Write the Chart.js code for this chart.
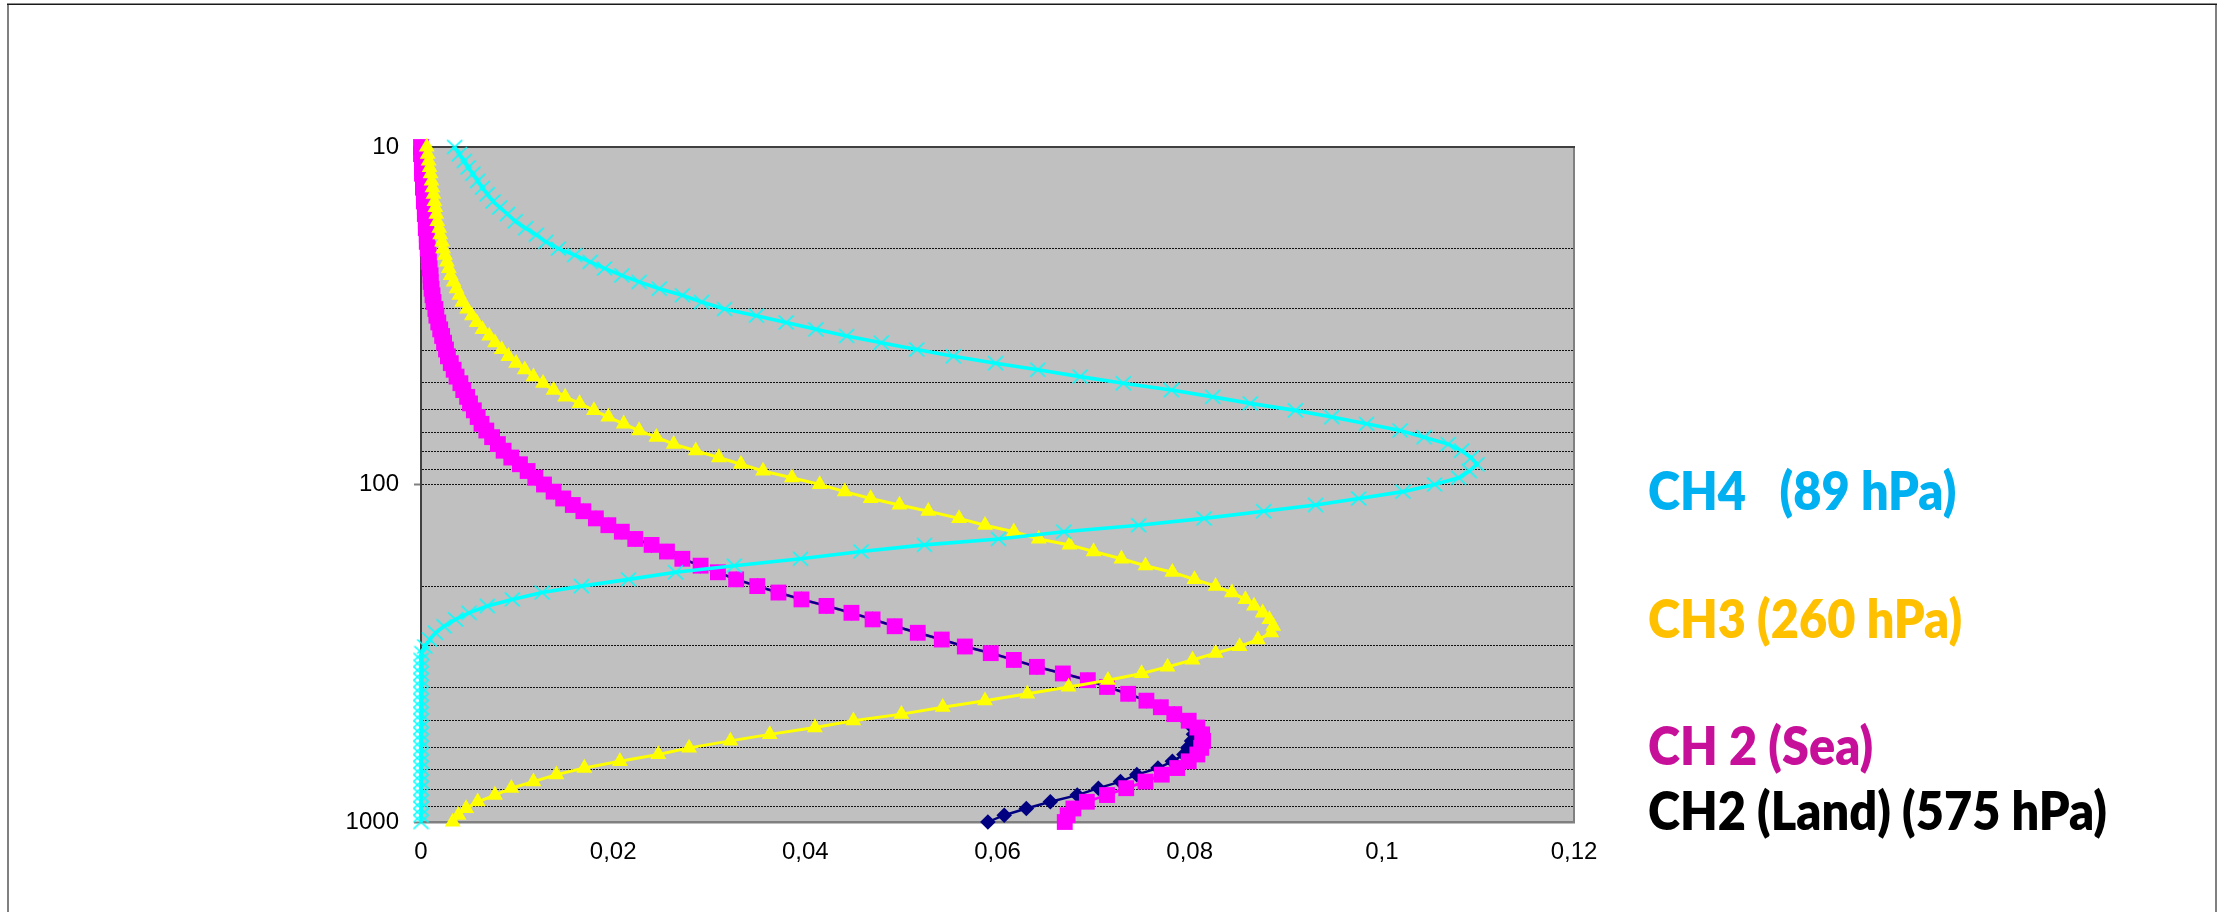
<!DOCTYPE html>
<html><head><meta charset="utf-8">
<script src="https://cdn.jsdelivr.net/npm/chart.js@4.4.1/dist/chart.umd.min.js"></script>
<style>html,body{margin:0;padding:0;background:#fff;}#wrap{position:relative;width:2231px;height:912px;}canvas{display:block;}</style>
</head><body><div id="wrap"><canvas id="c" width="2231" height="912"></canvas></div>
<script>
// Pressure levels (hPa)
const pressureLevels = [10, 10.5, 11, 11.5, 12, 12.6, 13.2, 13.8, 14.5, 15.1,
  15.8, 16.6, 17.4, 18.2, 19.1, 20, 20.9, 21.9, 22.9, 24,
  25.1, 26.3, 27.5, 28.8, 30.2, 31.6, 33.1, 34.7, 36.3, 38,
  39.8, 41.7, 43.7, 45.7, 47.9, 50.1, 52.5, 55, 57.5, 60.3,
  63.1, 66.1, 69.2, 72.4, 75.9, 79.4, 83.2, 87.1, 91.2, 95.5,
  100, 105, 110, 115, 120, 126, 132, 138, 145, 151,
  158, 166, 174, 182, 191, 200, 209, 219, 229, 240,
  251, 263, 275, 288, 302, 316, 331, 347, 363, 380,
  398, 417, 437, 457, 479, 501, 525, 550, 575, 603,
  631, 661, 692, 724, 759, 794, 832, 871, 912, 955, 1000];

const ch4Values = [0.0035, 0.0040, 0.0045, 0.0049, 0.0054, 0.0059, 0.0064, 0.0069, 0.0075, 0.0082,
  0.0090, 0.0098, 0.0109, 0.0120, 0.0130, 0.0143, 0.0160, 0.0176, 0.0191, 0.0209,
  0.0227, 0.0248, 0.0272, 0.0292, 0.0316, 0.0349, 0.0380, 0.0411, 0.0443, 0.0479,
  0.0516, 0.0554, 0.0598, 0.0642, 0.0686, 0.0731, 0.0781, 0.0824, 0.0863, 0.0910,
  0.0948, 0.0984, 0.1019, 0.1044, 0.1069, 0.1083, 0.1093, 0.1099, 0.1091, 0.1080,
  0.1055, 0.1022, 0.0976, 0.0931, 0.0877, 0.0815, 0.0747, 0.0669, 0.0601, 0.0524,
  0.0458, 0.0395, 0.0326, 0.0265, 0.0216, 0.0167, 0.0126, 0.0095, 0.0069, 0.0050,
  0.0036, 0.0024, 0.0015, 0.0009, 0.0004, 0.0001, 0, 0, 0, 0,
  0, 0, 0, 0, 0, 0, 0, 0, 0, 0,
  0, 0, 0, 0, 0, 0, 0, 0, 0, 0, 0];

const ch3Values = [0.0006, 0.0007, 0.0008, 0.0009, 0.0010, 0.0011, 0.0012, 0.0013, 0.0014, 0.0015,
  0.0016, 0.0017, 0.0019, 0.0020, 0.0022, 0.0023, 0.0025, 0.0027, 0.0029, 0.0031,
  0.0034, 0.0037, 0.0040, 0.0043, 0.0048, 0.0053, 0.0058, 0.0064, 0.0071, 0.0077,
  0.0084, 0.0091, 0.0099, 0.0108, 0.0117, 0.0127, 0.0138, 0.0150, 0.0165, 0.0180,
  0.0195, 0.0211, 0.0227, 0.0245, 0.0263, 0.0286, 0.0310, 0.0333, 0.0356, 0.0386,
  0.0415, 0.0441, 0.0468, 0.0498, 0.0528, 0.0560, 0.0587, 0.0617, 0.0643, 0.0675,
  0.0700, 0.0729, 0.0754, 0.0782, 0.0805, 0.0827, 0.0844, 0.0858, 0.0867, 0.0876,
  0.0883, 0.0887, 0.0885, 0.0871, 0.0852, 0.0827, 0.0803, 0.0777, 0.0750, 0.0715,
  0.0674, 0.0631, 0.0587, 0.0543, 0.0500, 0.0450, 0.0410, 0.0363, 0.0322, 0.0279,
  0.0247, 0.0207, 0.0170, 0.0141, 0.0117, 0.0094, 0.0077, 0.0059, 0.0047, 0.0039, 0.0033];

const ch2SeaValues = [0, 0, 0.0001, 0.0001, 0.0001, 0.0002, 0.0002, 0.0003, 0.0003, 0.0004,
  0.0004, 0.0005, 0.0005, 0.0006, 0.0006, 0.0007, 0.0008, 0.0008, 0.0009, 0.0010,
  0.0010, 0.0011, 0.0012, 0.0013, 0.0015, 0.0016, 0.0018, 0.0020, 0.0022, 0.0024,
  0.0026, 0.0028, 0.0031, 0.0034, 0.0037, 0.0041, 0.0044, 0.0048, 0.0051, 0.0055,
  0.0059, 0.0063, 0.0068, 0.0074, 0.0080, 0.0086, 0.0094, 0.0103, 0.0111, 0.0119,
  0.0128, 0.0138, 0.0148, 0.0158, 0.0169, 0.0182, 0.0195, 0.0209, 0.0223, 0.0240,
  0.0256, 0.0272, 0.0291, 0.0309, 0.0328, 0.0350, 0.0372, 0.0396, 0.0422, 0.0448,
  0.0470, 0.0493, 0.0517, 0.0542, 0.0566, 0.0593, 0.0617, 0.0641, 0.0668, 0.0694,
  0.0714, 0.0736, 0.0755, 0.0770, 0.0784, 0.0799, 0.0808, 0.0813, 0.0814, 0.0812,
  0.0808, 0.0799, 0.0787, 0.0771, 0.0754, 0.0734, 0.0714, 0.0693, 0.0679, 0.0673, 0.0670];

const ch2LandValues = [0, 0, 0.0001, 0.0001, 0.0001, 0.0002, 0.0002, 0.0003, 0.0003, 0.0004,
  0.0004, 0.0005, 0.0005, 0.0006, 0.0006, 0.0007, 0.0008, 0.0008, 0.0009, 0.0010,
  0.0010, 0.0011, 0.0012, 0.0013, 0.0015, 0.0016, 0.0018, 0.0020, 0.0022, 0.0024,
  0.0026, 0.0028, 0.0031, 0.0034, 0.0037, 0.0041, 0.0044, 0.0048, 0.0051, 0.0055,
  0.0059, 0.0063, 0.0068, 0.0074, 0.0080, 0.0086, 0.0094, 0.0103, 0.0111, 0.0119,
  0.0128, 0.0138, 0.0148, 0.0158, 0.0169, 0.0182, 0.0195, 0.0209, 0.0223, 0.0240,
  0.0256, 0.0272, 0.0291, 0.0309, 0.0328, 0.0350, 0.0372, 0.0396, 0.0422, 0.0448,
  0.0470, 0.0493, 0.0517, 0.0542, 0.0566, 0.0593, 0.0617, 0.0641, 0.0668, 0.0694,
  0.0714, 0.0736, 0.0755, 0.0770, 0.0784, 0.0797, 0.0803, 0.0804, 0.0802, 0.0798,
  0.0794, 0.0782, 0.0767, 0.0745, 0.0728, 0.0705, 0.0683, 0.0655, 0.0630, 0.0607, 0.0590];

const xTickValues = [0, 0.02, 0.04, 0.06, 0.08, 0.1, 0.12];
const xTickLabels = ['0', '0,02', '0,04', '0,06', '0,08', '0,1', '0,12'];
const yGridValues = [10, 20, 30, 40, 50, 60, 70, 80, 90, 100, 200, 300, 400, 500, 600, 700, 800, 900, 1000];
const yTickLabels = ['10', '100', '1000'];
const seriesLabels = ['CH4   (89 hPa)', 'CH3 (260 hPa)', 'CH 2 (Sea)', 'CH2 (Land) (575 hPa)'];

function toPoints(vals) { return pressureLevels.map((p, i) => ({ x: vals[i], y: p })); }

function xMarker(color) {
  const c = document.createElement('canvas');
  c.width = 17; c.height = 17;
  const g = c.getContext('2d');
  g.strokeStyle = color; g.lineWidth = 1.7;
  g.beginPath();
  g.moveTo(1, 1.5); g.lineTo(16, 15.5);
  g.moveTo(16, 1.5); g.lineTo(1, 15.5);
  g.stroke();
  return c;
}

const framePlugin = {
  id: 'frame',
  beforeDraw(chart) {
    const { ctx, chartArea: a } = chart;
    ctx.save();
    ctx.fillStyle = '#C0C0C0';
    ctx.fillRect(a.left, a.top, a.right - a.left, a.bottom - a.top);
    ctx.strokeStyle = '#808080'; ctx.lineWidth = 2;
    ctx.beginPath();
    ctx.moveTo(8, 4); ctx.lineTo(8, 912);
    ctx.moveTo(2216, 4); ctx.lineTo(2216, 912);
    ctx.stroke();
    ctx.strokeStyle = '#1a1a1a'; ctx.lineWidth = 1.5;
    ctx.beginPath(); ctx.moveTo(7, 4.25); ctx.lineTo(2217, 4.25); ctx.stroke();
    ctx.restore();
  },
  beforeDatasetsDraw(chart) {
    const { ctx, chartArea: a } = chart;
    ctx.save();
    ctx.lineWidth = 2;
    ctx.strokeStyle = '#808080';
    ctx.beginPath(); ctx.moveTo(a.right, a.top); ctx.lineTo(a.right, a.bottom); ctx.stroke();
    ctx.strokeStyle = '#404040';
    ctx.beginPath(); ctx.moveTo(a.left - 1, a.top); ctx.lineTo(a.right + 1, a.top); ctx.stroke();
    ctx.restore();
  }
};

const sideLabelPlugin = {
  id: 'sideLabels',
  afterDraw(chart, args, opts) {
    const ctx = chart.ctx;
    ctx.save();
    ctx.font = opts.font;
    const ref = ctx.measureText(seriesLabels[3]).width;
    const k = opts.targetWidth / ref;
    ctx.textBaseline = 'alphabetic';
    ctx.textAlign = 'left';
    opts.items.forEach((it, i) => {
      ctx.save();
      ctx.translate(opts.x, it.baseline);
      ctx.scale(k, 1);
      ctx.fillStyle = it.color;
      ctx.fillText(seriesLabels[i], 0, 0);
      ctx.restore();
    });
    ctx.restore();
  }
};

const tickFont = { family: '"Liberation Sans", Arial, sans-serif', size: 24 };
const majorY = [10, 100, 1000];

new Chart(document.getElementById('c'), {
  type: 'scatter',
  data: {
    datasets: [
      { label: 'CH4', data: toPoints(ch4Values), showLine: true, borderColor: '#00FFFF', borderWidth: 3.6,
        pointStyle: xMarker('#00FFFF'), pointRadius: 8, order: 1, clip: false, tension: 0 },
      { label: 'CH3', data: toPoints(ch3Values), showLine: true, borderColor: '#FFFF00', borderWidth: 3,
        pointStyle: 'triangle', pointRadius: 9.2, pointBackgroundColor: '#FFFF00', pointBorderWidth: 0, order: 2, clip: false },
      { label: 'CH 2 (Sea)', data: toPoints(ch2SeaValues), showLine: false,
        pointStyle: 'rect', pointRadius: 11.2, pointBackgroundColor: '#FF00FF', pointBorderWidth: 0, order: 3, clip: false },
      { label: 'CH2 (Land)', data: toPoints(ch2LandValues), showLine: true, borderColor: '#000080', borderWidth: 2.4,
        pointStyle: 'rectRot', pointRadius: 7.8, pointBackgroundColor: '#000080', pointBorderWidth: 0, order: 4, clip: false },
      { label: 'CH 2 (Sea) line', data: toPoints(ch2SeaValues), showLine: true, borderColor: '#FF00FF', borderWidth: 2.8,
        pointRadius: 0, order: 5, clip: false }
    ]
  },
  options: {
    responsive: false,
    devicePixelRatio: 1,
    animation: false,
    layout: { padding: { left: 0, right: 657, top: 147, bottom: 0 } },
    plugins: {
      legend: { display: false },
      tooltip: { enabled: false },
      sideLabels: {
        x: 1648, targetWidth: 459, font: '800 53px Lato, "Open Sans", sans-serif',
        items: [
          { color: '#00B0F0', baseline: 510 },
          { color: '#FFC000', baseline: 638 },
          { color: '#C7109A', baseline: 765 },
          { color: '#000000', baseline: 830 }
        ]
      }
    },
    scales: {
      x: {
        type: 'linear', min: 0, max: 0.12,
        afterBuildTicks: s => { s.ticks = xTickValues.map(v => ({ value: v })); },
        afterFit: s => { s.height = 90; },
        grid: { display: true, drawOnChartArea: false, drawTicks: false, tickLength: 0, color: 'rgba(0,0,0,0)' },
        border: { display: true, color: '#808080', width: 2.5 },
        ticks: { autoSkip: false, maxRotation: 0, padding: 16, color: '#000', font: tickFont,
          callback: (v, i) => xTickLabels[i] }
      },
      y: {
        type: 'logarithmic', min: 10, max: 1000, reverse: true,
        afterBuildTicks: s => { s.ticks = yGridValues.map(v => ({ value: v })); },
        afterFit: s => { s.width = 421; },
        grid: {
          color: c => (c.tick && (c.tick.value === 10 || c.tick.value === 1000)) ? 'rgba(0,0,0,0)' : '#111',
          lineWidth: 1, drawTicks: true, tickLength: 7, tickWidth: 2,
          tickColor: c => (c.tick && majorY.includes(c.tick.value)) ? '#808080' : 'rgba(0,0,0,0)'
        },
        border: { display: true, color: '#404040', width: 2, dash: [2, 1] },
        ticks: { autoSkip: false, padding: 15, color: '#000', font: tickFont,
          callback: v => yTickLabels.includes(String(v)) ? String(v) : '' }
      }
    }
  },
  plugins: [framePlugin, sideLabelPlugin]
});
</script>
</body></html>
